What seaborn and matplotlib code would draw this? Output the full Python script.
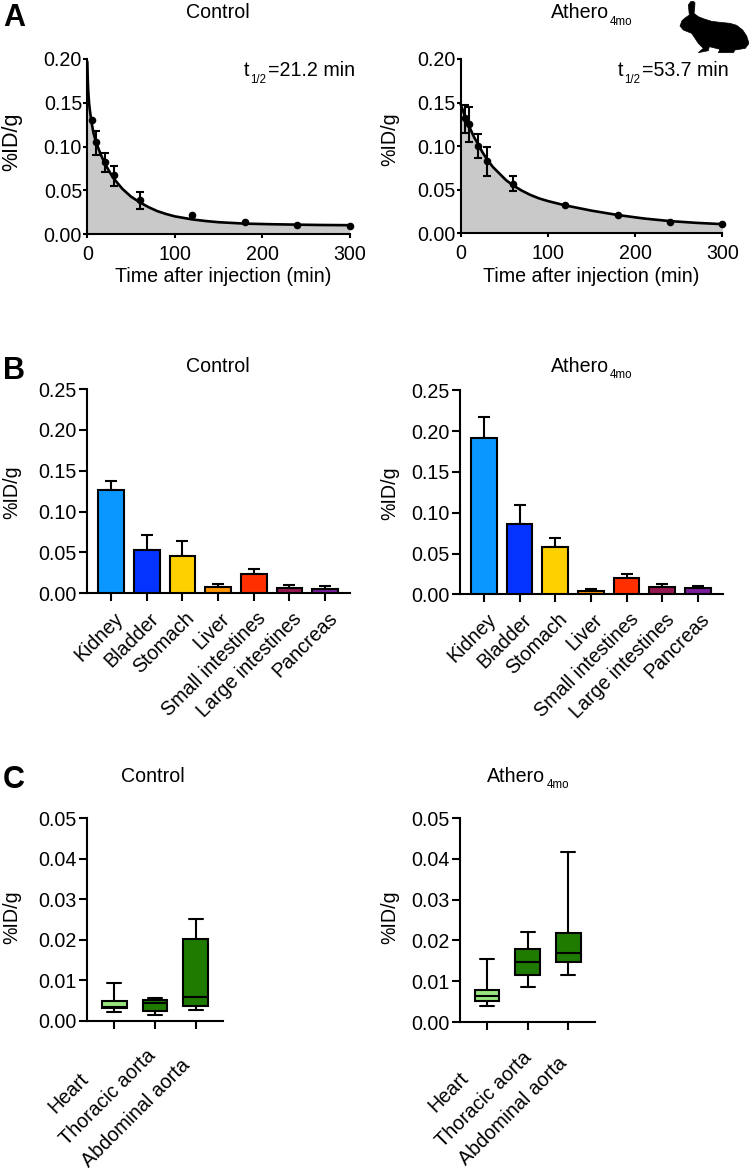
import numpy as np
import pandas as pd
import matplotlib
matplotlib.use("Agg")
import matplotlib.pyplot as plt
from matplotlib.patches import Polygon
from matplotlib.transforms import ScaledTranslation
import seaborn as sns

W, H = 749, 1173
sns.set_style("ticks")
plt.rcParams['font.family'] = ['Liberation Sans', 'DejaVu Sans']
plt.rcParams['axes.edgecolor'] = 'black'
plt.rcParams['xtick.color'] = 'black'
plt.rcParams['ytick.color'] = 'black'
FS = 14.1
LW = 1.5

# ---- data A
time_pts = [5, 10, 20, 30, 60, 120, 180, 240, 300]
ctrl_pts = [0.1307, 0.1048, 0.0823, 0.0678, 0.0389, 0.0217, 0.0137, 0.0110, 0.0095]
ctrl_low = [0.1290, 0.0907, 0.0712, 0.0556, 0.0286, 0.0205, 0.0128, 0.0103, 0.0088]
ctrl_high = [0.1325, 0.1180, 0.0926, 0.0777, 0.0480, 0.0229, 0.0146, 0.0117, 0.0102]
ath_pts = [0.1320, 0.1254, 0.1002, 0.0830, 0.0566, 0.0321, 0.0214, 0.0134, 0.0107]
ath_low = [0.1155, 0.1050, 0.0860, 0.0662, 0.0482, 0.0310, 0.0205, 0.0127, 0.0100]
ath_high = [0.1470, 0.1453, 0.1136, 0.0994, 0.0658, 0.0332, 0.0223, 0.0141, 0.0114]
ctrl_curve_t = [0, 0.5, 1, 2, 3, 5, 7, 10, 15, 20, 25, 30, 35, 40, 50, 60, 70, 80, 90, 100, 120, 135, 150, 180, 210, 240, 270, 300]
ctrl_curve_y = [0.197, 0.178, 0.165, 0.150, 0.141, 0.127, 0.116, 0.105, 0.092, 0.081, 0.072, 0.064, 0.058, 0.052, 0.043, 0.0365,
                0.031, 0.0265, 0.0232, 0.0205, 0.017, 0.0152, 0.0138, 0.0122, 0.0115, 0.0110, 0.0106, 0.0104]
ath_curve_t = [0, 5, 10, 15, 20, 25, 30, 37, 45, 52, 60, 70, 80, 90, 100, 120, 135, 150, 165, 180, 210, 240, 270, 300]
ath_curve_y = [0.148, 0.134, 0.122, 0.111, 0.102, 0.093, 0.085, 0.076, 0.068, 0.061, 0.055, 0.049, 0.044, 0.040, 0.037, 0.032,
               0.029, 0.026, 0.0235, 0.021, 0.017, 0.014, 0.012, 0.0105]

# ---- data B
organs = ['Kidney', 'Bladder', 'Stomach', 'Liver', 'Small intestines', 'Large intestines', 'Pancreas']
organ_colors = ['#0A97FF', '#0433FF', '#FFD000', '#FF9300', '#FF2F00', '#941751', '#7A1E9C']
ctrl_bar = [0.126, 0.053, 0.0457, 0.0073, 0.0237, 0.0060, 0.0057]
ctrl_bar_top = [0.138, 0.071, 0.064, 0.011, 0.0294, 0.0098, 0.0094]
ath_bar = [0.1916, 0.0866, 0.0584, 0.0045, 0.0204, 0.0094, 0.0074]
ath_bar_top = [0.2177, 0.1095, 0.069, 0.0065, 0.025, 0.013, 0.0102]

# ---- data C: whisker low, q1, median, q3, whisker high
vessels = ['Heart', 'Thoracic aorta', 'Abdominal aorta']
vessel_colors = ['#98E47F', '#1E7B00', '#1E7B00']
ctrl_heart = [0.0023, 0.0031, 0.0034, 0.0050, 0.0094]
ctrl_thoracic = [0.0015, 0.0025, 0.0044, 0.0052, 0.0057]
ctrl_abdominal = [0.0026, 0.0036, 0.0058, 0.0201, 0.0252]
ath_heart = [0.0038, 0.0052, 0.0063, 0.0078, 0.0154]
ath_thoracic = [0.0087, 0.0116, 0.0146, 0.0179, 0.0220]
ath_abdominal = [0.0114, 0.0146, 0.0170, 0.0217, 0.0417]

fig = plt.figure(figsize=(W / 100, H / 100), dpi=100, facecolor='white')

def make_ax(x0, x1, ytop, ybot):
    ax = fig.add_axes([x0 / W, 1 - ybot / H, (x1 - x0) / W, (ybot - ytop) / H])
    ax.patch.set_alpha(0)
    return ax

def ftext(x, y, s, **kw):
    kw.setdefault('fontsize', FS)
    kw.setdefault('ha', 'left')
    kw.setdefault('va', 'baseline')
    return fig.text(x / W, 1 - y / H, s, color='black', **kw)

def style(ax, ticklen, pad):
    sns.despine(ax=ax)
    for s in ('left', 'bottom'):
        ax.spines[s].set_linewidth(LW)
    ax.tick_params(length=ticklen, width=LW, labelsize=FS, pad=pad, direction='out')

def ylabel(x, y, size=FS):
    ftext(x, y, '%ID/g', rotation=90, ha='center', va='center', fontsize=size)

def decay(x0, x1, ytop, ybot, ct, cy, pts, low, high, first):
    ax = make_ax(x0, x1, ytop, ybot)
    ax.fill_between(ct, cy, 0, color='#C9C9C9', lw=0, zorder=1)
    sns.lineplot(x=ct, y=cy, color='black', lw=1.9, ax=ax, zorder=3, errorbar=None, sort=False, clip_on=False)
    sns.scatterplot(x=time_pts, y=pts, color='black', s=30, linewidth=0, ax=ax, zorder=5, clip_on=False)
    e_lo = np.array(pts) - np.array(low)
    e_hi = np.array(high) - np.array(pts)
    ax.errorbar(time_pts[first:5], pts[first:5], yerr=[e_lo[first:5], e_hi[first:5]], fmt='none', ecolor='black',
                elinewidth=LW, capsize=3, capthick=LW, zorder=4, clip_on=False)
    ax.set_xlim(0, 300)
    ax.set_ylim(0, 0.20)
    ax.set_xticks([0, 100, 200, 300])
    ax.set_yticks([0, 0.05, 0.10, 0.15, 0.20], ['0.00', '0.05', '0.10', '0.15', '0.20'])
    style(ax, 3, 0.8)
    ax.tick_params(axis='x', pad=4.5)
    return ax

def bars(x0, x1, ytop, ybot, vals, tops):
    ax = make_ax(x0, x1, ytop, ybot)
    df = pd.DataFrame({'organ': organs, 'value': vals})
    sns.barplot(data=df, x='organ', y='value', hue='organ', palette=dict(zip(organs, organ_colors)),
                legend=False, saturation=1, width=0.72, edgecolor='black', linewidth=LW, ax=ax, zorder=3)
    up = np.array(tops) - np.array(vals)
    ax.errorbar(range(7), vals, yerr=[np.zeros(7), up], fmt='none', ecolor='black', elinewidth=LW,
                capsize=4.3, capthick=LW, zorder=2)
    ax.set_xlim(-0.665, 6.70)
    ax.set_ylim(0, 0.25)
    ax.set_yticks([0, 0.05, 0.10, 0.15, 0.20, 0.25], ['0.00', '0.05', '0.10', '0.15', '0.20', '0.25'])
    ax.set_xlabel('')
    ax.set_ylabel('')
    style(ax, 6, 1.5)
    ax.set_xticks(range(7), organs, rotation=45, ha='right', va='center', rotation_mode='anchor')
    for lab in ax.get_xticklabels():
        lab.set_transform(lab.get_transform() + ScaledTranslation(6.5 / 72, -8.5 / 72, fig.dpi_scale_trans))
    return ax

def boxes(x0, x1, ytop, ybot, groups, offs):
    ax = make_ax(x0, x1, ytop, ybot)
    df = pd.DataFrame({'vessel': [v for v in vessels for _ in range(5)],
                       'value': [y for g in groups for y in g]})
    sns.boxplot(data=df, x='vessel', y='value', hue='vessel', palette=dict(zip(vessels, vessel_colors)),
                legend=False, saturation=1, width=0.61, whis=(0, 100), linecolor='black', linewidth=LW,
                fliersize=0, ax=ax, capwidths=0.35, zorder=3)
    ax.set_xlim(-0.664, 2.665)
    ax.set_ylim(0, 0.05)
    ax.set_yticks([0, 0.01, 0.02, 0.03, 0.04, 0.05], ['0.00', '0.01', '0.02', '0.03', '0.04', '0.05'])
    ax.set_xlabel('')
    ax.set_ylabel('')
    style(ax, 6, 1.5)
    ax.set_xticks(range(3), vessels, rotation=45, ha='right', va='center', rotation_mode='anchor')
    for lab, (dx, dy) in zip(ax.get_xticklabels(), offs):
        lab.set_transform(lab.get_transform() + ScaledTranslation(dx / 72, dy / 72, fig.dpi_scale_trans))
    return ax

# Panel A
decay(87.3, 349.5, 59, 234.3, ctrl_curve_t, ctrl_curve_y, ctrl_pts, ctrl_low, ctrl_high, 1)
decay(460.7, 722.3, 59, 233.3, ath_curve_t, ath_curve_y, ath_pts, ath_low, ath_high, 0)
# Panel B
bars(87.3, 350, 389, 593.3, ctrl_bar, ctrl_bar_top)
bars(460.3, 722.7, 390.3, 594.3, ath_bar, ath_bar_top)
# Panel C
boxes(87.3, 222.7, 818, 1021, [ctrl_heart, ctrl_thoracic, ctrl_abdominal],
      [(-20.5, -32), (-2, -15.5), (-6.5, -22)])
boxes(460, 595.3, 818, 1022, [ath_heart, ath_thoracic, ath_abdominal],
      [(-15.5, -30.5), (1, -16), (-3, -20)])

# Panel letters
for s, y in (('A', 26), ('B', 379), ('C', 788)):
    ftext(3, y, s, fontsize=22, fontweight='bold')

# Titles
SUB = 8.3
ftext(218, 18, 'Control', ha='center')
ftext(550.7, 18, 'Athero')
ftext(610, 25, '4mo', fontsize=SUB)
ftext(218, 372, 'Control', ha='center')
ftext(550.7, 372, 'Athero')
ftext(609.5, 378, '4mo', fontsize=SUB)
ftext(153, 782, 'Control', ha='center')
ftext(487.3, 782, 'Athero')
ftext(546.7, 788, '4mo', fontsize=SUB)

# Half-life notes
ftext(244, 76, 't')
ftext(250, 82.7, '1/2', fontsize=SUB)
ftext(267.7, 76, '=21.2 min')
ftext(618, 76, 't')
ftext(624, 82.7, '1/2', fontsize=SUB)
ftext(641.7, 76, '=53.7 min')

# Axis labels
ftext(223, 282, 'Time after injection (min)', ha='center')
ftext(591, 282, 'Time after injection (min)', ha='center')
ylabel(12, 142, 15.5)
ylabel(390, 139)
ylabel(12, 492)
ylabel(390, 493)
ylabel(12, 917)
ylabel(390, 917)

# Rabbit silhouette (decoration, figure pixels)
rabbit = [(62, 5), (70, 4), (75, 8), (74, 25), (72, 40), (85, 50), (100, 56), (125, 64), (150, 67), (180, 70), (200, 76),
          (218, 90), (230, 108), (237, 130), (226, 145), (195, 150), (190, 158), (145, 158), (150, 148),
          (118, 140), (115, 152), (85, 158), (100, 145), (85, 130), (65, 100), (40, 90), (30, 78),
          (36, 62), (45, 54), (58, 45), (55, 15)]
fig.add_artist(Polygon([((670 + x / 3) / W, 1 - (y / 3) / H) for x, y in rabbit], closed=True,
                       transform=fig.transFigure, facecolor='black', edgecolor='black', lw=0.5))

fig.savefig('out.png', dpi=100, facecolor='white')
